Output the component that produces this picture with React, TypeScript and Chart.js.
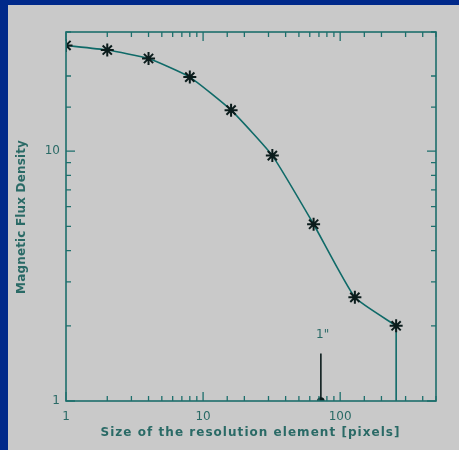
import React, { useEffect, useRef } from "react";
import { Chart, registerables } from "chart.js";

Chart.register(...registerables);

const resolutionSizes = [1, 2, 4, 8, 16, 32, 64, 128, 256];
const fluxDensity = [26.5, 25.4, 23.5, 19.8, 14.6, 9.6, 5.1, 2.6, 2.0];
const arcsecMarker = [
  { x: 72.3, y: 1 },
  { x: 72.3, y: 1.55 },
];
const dropLine = [
  { x: 256, y: 2.0 },
  { x: 256, y: 1 },
];
const arcsecLabel = '1"';
const arcsecLabelPos = { x: 74.5, y: 1.84 };
const xTickLabels = [1, 10, 100];
const yTickLabels = [1, 10];
const xTitle = "Size of the resolution element [pixels]";
const yTitle = "Magnetic Flux Density";

const AXIS = "#1d6f6c";
const TEXT = "#2a6a66";
const LINE = "#0f6a68";
const STAR = "#0b1c1c";

const isMajor = (v: number) => Math.abs(Math.log10(v) - Math.round(Math.log10(v))) < 1e-9;

function spacedText(ctx: any, text: string, x: number, y: number, width: number) {
  ctx.letterSpacing = "0px";
  const w = ctx.measureText(text).width;
  const sp = Math.max(0, (width - w) / text.length);
  ctx.letterSpacing = sp + "px";
  ctx.fillText(text, x + sp / 2, y);
  ctx.letterSpacing = "0px";
}

const frame = {
  id: "frame",
  afterDatasetsDraw(chart: any) {
    const { ctx, chartArea: a, scales } = chart;
    ctx.save();
    ctx.strokeStyle = AXIS;
    ctx.lineWidth = 1.6;
    ctx.strokeRect(a.left, a.top, a.right - a.left, a.bottom - a.top);
    ctx.lineWidth = 1.3;
    ctx.beginPath();
    for (const t of scales.x.ticks) {
      const px = scales.x.getPixelForValue(t.value);
      if (px < a.left - 0.5 || px > a.right + 0.5) continue;
      const len = isMajor(t.value) ? 9 : 5;
      ctx.moveTo(px, a.bottom);
      ctx.lineTo(px, a.bottom - len);
      ctx.moveTo(px, a.top);
      ctx.lineTo(px, a.top + len);
    }
    for (const t of scales.y.ticks) {
      const py = scales.y.getPixelForValue(t.value);
      if (py < a.top - 0.5 || py > a.bottom + 0.5) continue;
      const len = isMajor(t.value) ? 9 : 5;
      ctx.moveTo(a.left, py);
      ctx.lineTo(a.left + len, py);
      ctx.moveTo(a.right, py);
      ctx.lineTo(a.right - len, py);
    }
    ctx.stroke();
    ctx.fillStyle = TEXT;
    ctx.font = "12px 'DejaVu Sans'";
    ctx.textAlign = "center";
    ctx.textBaseline = "middle";
    ctx.fillText(
      arcsecLabel,
      scales.x.getPixelForValue(arcsecLabelPos.x),
      scales.y.getPixelForValue(arcsecLabelPos.y)
    );
    // axis titles
    ctx.font = "bold 12px 'DejaVu Sans'";
    spacedText(ctx, xTitle, 250, 433, 300);
    ctx.translate(22, 217);
    ctx.rotate(-Math.PI / 2);
    spacedText(ctx, yTitle, 0, 0, 154);
    ctx.restore();
  },
};

export default function App() {
  const ref = useRef<HTMLCanvasElement>(null);
  useEffect(() => {
    document.body.style.margin = "0";
    const chart = new Chart(ref.current!, {
      type: "scatter",
      data: {
        datasets: [
          {
            data: resolutionSizes.map((x, i) => ({ x, y: fluxDensity[i] })),
            showLine: true,
            tension: 0.15,
            borderColor: LINE,
            borderWidth: 1.6,
            pointStyle: "star",
            pointRadius: 6.5,
            pointBorderColor: STAR,
            pointBackgroundColor: STAR,
            pointBorderWidth: 2,
          },
          {
            data: arcsecMarker,
            showLine: true,
            borderColor: STAR,
            borderWidth: 1.6,
            pointRadius: [3, 0],
            pointBackgroundColor: STAR,
            pointBorderColor: STAR,
          },
          {
            data: dropLine,
            showLine: true,
            borderColor: LINE,
            borderWidth: 1.6,
            pointRadius: 0,
          },
        ],
      },
      options: {
        responsive: false,
        animation: false,
        plugins: { legend: { display: false }, tooltip: { enabled: false } },
        layout: { padding: { left: 0, top: 32, right: 23, bottom: 0 } },
        scales: {
          x: {
            type: "logarithmic",
            min: 1,
            max: 500,
            grid: { display: false, drawTicks: false },
            border: { display: false },
            afterFit: (s: any) => {
              s.height = 49;
            },
            ticks: {
              autoSkip: false,
              maxRotation: 0,
              padding: 9,
              color: TEXT,
              font: { family: "'DejaVu Sans'", size: 12 },
              callback: (v: any) => (xTickLabels.includes(Number(v)) ? String(v) : ""),
            },
            title: { display: false },
          },
          y: {
            type: "logarithmic",
            min: 1,
            max: 30,
            grid: { display: false, drawTicks: false },
            border: { display: false },
            afterFit: (s: any) => {
              s.width = 66;
            },
            ticks: {
              autoSkip: false,
              padding: 6,
              color: TEXT,
              font: { family: "'DejaVu Sans'", size: 12 },
              callback: (v: any) => (yTickLabels.includes(Number(v)) ? String(v) : ""),
            },
            title: { display: false },
          },
        },
      },
      plugins: [frame],
    });
    return () => chart.destroy();
  }, []);
  return (
    <div style={{ position: "fixed", left: 0, top: 0, width: 459, height: 450, background: "#00298a" }}>
      <div style={{ position: "absolute", left: 8, top: 5, right: 0, bottom: 0, background: "#c9c9c9" }} />
      <canvas ref={ref} width={459} height={450} style={{ position: "absolute", left: 0, top: 0 }} />
    </div>
  );
}
